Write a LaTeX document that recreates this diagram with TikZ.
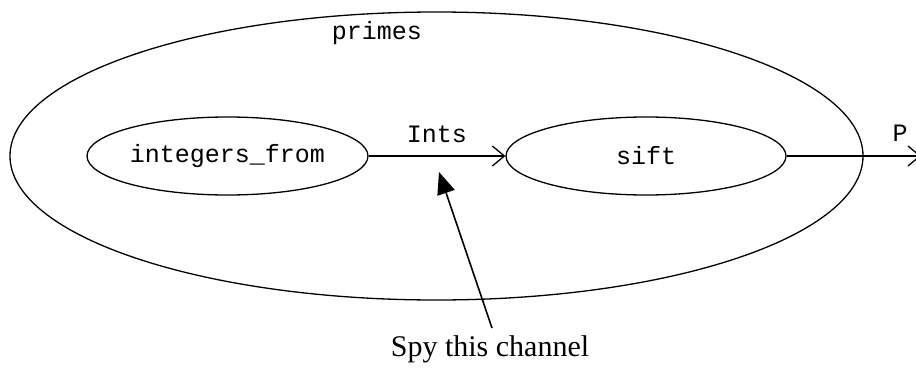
\documentclass[tikz,border=0pt]{standalone}
\usepackage{fontspec}
\setmainfont{Liberation Serif}
\newfontfamily\cour{Liberation Mono}
\usetikzlibrary{shapes.geometric,arrows.meta}
\tikzset{
  proc/.style={draw,ellipse,line width=1.3pt,inner sep=0pt},
  codetext/.style={font=\cour\fontsize{25}{30}\selectfont,inner sep=0pt},
  chan/.style={line width=1.3pt,-{Straight Barb[length=12pt,width=20pt,line width=1.3pt]}},
  spy/.style={line width=1.6pt,-{Triangle[length=22pt,width=18pt]}}
}
\begin{document}
\begin{tikzpicture}[x=1pt,y=-1pt]
\useasboundingbox (0,0) rectangle (916,367);
\clip (0,0) rectangle (916,367);
\node[proc,minimum width=853pt,minimum height=288pt] (primes) at (436.5,156) {};
\node[codetext] (primeslbl) at (377,33) {primes};
\node[proc,minimum width=281pt,minimum height=78pt,codetext] (intf) at (227.5,156) {integers\_from};
\node[proc,minimum width=280pt,minimum height=78pt,codetext] (sift) at (646,156) {sift};
\draw[chan] (intf.east) -- (sift.west) node[midway,above=13pt,codetext] (ints) {Ints};
\coordinate (out) at (921,156);
\draw[chan] (sift.east) -- (out);
\node[codetext] (plbl) at (900,133) {P};
\node[inner sep=0pt,font=\fontsize{30}{36}\selectfont] (spytxt) at (490,349) {Spy this channel};
\coordinate (spytail) at (492,328);
\coordinate (spytip) at (439,172);
\draw[spy] (spytail) -- (spytip);
\end{tikzpicture}
\end{document}
